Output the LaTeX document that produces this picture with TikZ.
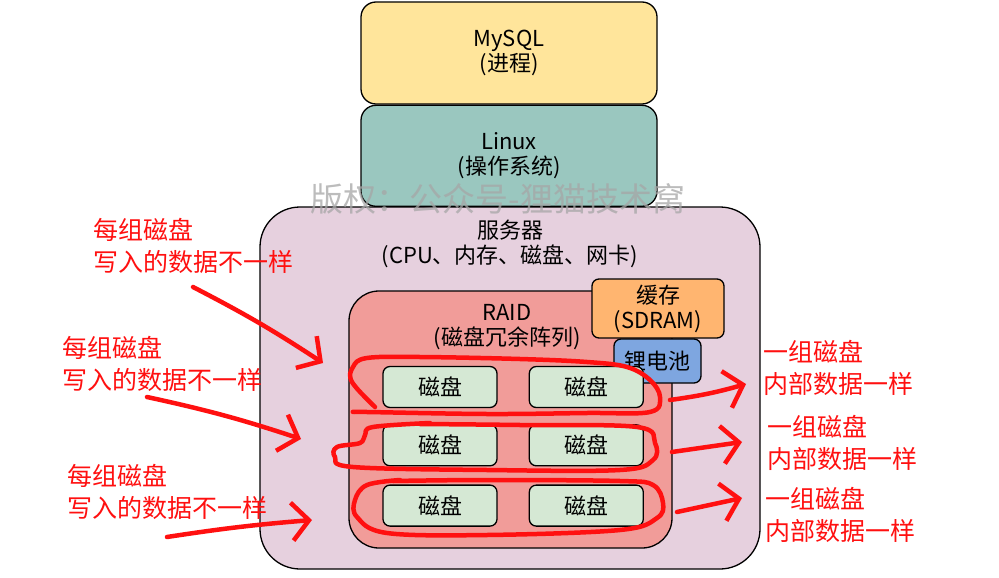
\documentclass[tikz,border=0pt]{standalone}
\usepackage{fontspec}
\setmainfont{Noto Sans CJK SC}
\usetikzlibrary{positioning, arrows.meta}

\definecolor{mysqlfill}{HTML}{FFE59B}
\definecolor{linuxfill}{HTML}{9AC7BF}
\definecolor{serverfill}{HTML}{E6D0DE}
\definecolor{raidfill}{HTML}{F19C99}
\definecolor{cachefill}{HTML}{FFB570}
\definecolor{batteryfill}{HTML}{7EA6E0}
\definecolor{diskfill}{HTML}{D5E8D4}
\definecolor{pen}{HTML}{FF1010}

\begin{document}
\begin{tikzpicture}[
    x=1pt, y=-1pt,
    box/.style={
        rectangle,
        draw=black,
        line width=1.3pt,
        rounded corners=15pt,
        inner sep=0pt,
        align=center,
        font=\fontsize{22}{25}\selectfont
    },
    small/.style={box, rounded corners=7pt},
    disk/.style={small, fill=diskfill, minimum width=114pt, minimum height=41pt},
    note/.style={text=pen, align=left, anchor=west, inner sep=0pt,
        font=\fontsize{25}{32}\selectfont},
    pencil/.style={draw=pen, line width=4.5pt, line cap=round, line join=round},
    scribble/.style={pencil, -{Straight Barb[length=17pt, width=38pt]}}
]
    \useasboundingbox (0,0) rectangle (999,578);

    % 1. MySQL and Linux (top)
    \node (mysql) [box, fill=mysqlfill, minimum width=296pt, minimum height=102pt] at (509,53) {MySQL\\(进程)};
    \node (linux) [box, fill=linuxfill, minimum width=296pt, minimum height=101pt, below=0pt of mysql] {Linux\\(操作系统)};

    % 2. Server
    \node (server) [box, fill=serverfill, rounded corners=40pt, minimum width=500pt, minimum height=362pt] at (510,388) {};
    \node (serverlabel) [align=center, inner sep=0pt, font=\fontsize{22}{25}\selectfont] at (510,244) {服务器\\(CPU、内存、磁盘、网卡)};

    % 3. RAID with cache and battery
    \node (raid) [box, fill=raidfill, rounded corners=30pt, minimum width=323pt, minimum height=257pt] at (510.5,419.5) {};
    \node (raidlabel) [align=center, inner sep=0pt, font=\fontsize{22}{25}\selectfont] at (507,327) {RAID\\(磁盘冗余阵列)};
    \node (cache) [small, fill=cachefill, minimum width=132pt, minimum height=59pt] at (658,308.5) {缓存\\(SDRAM)};
    \node (battery) [small, fill=batteryfill, minimum width=87pt, minimum height=44pt] at (657.5,361) {锂电池};

    % 4. Disks
    \node (disk11) [disk] at (440,387) {磁盘};
    \node (disk12) [disk, right=31pt of disk11] {磁盘};
    \node (disk21) [disk, below=16pt of disk11] {磁盘};
    \node (disk22) [disk, right=31pt of disk21] {磁盘};
    \node (disk31) [disk, below=18pt of disk21] {磁盘};
    \node (disk32) [disk, right=31pt of disk31] {磁盘};

    % Watermark
    \node (watermark) [text=gray!70, opacity=0.75, inner sep=0pt, font=\fontsize{33}{36}\selectfont] at (498,199) {版权：公众号-狸猫技术窝};

    % Hand-drawn loops round each row
    \draw[pencil] plot[smooth, tension=0.6] coordinates {(375,407) (352,382) (353,367) (367,358) (420,357) (520,359) (587,362) (627,367) (650,380) (660,397) (650,412) (587,413) (487,414) (367,412) (355,412)};
    \draw[pencil] plot[smooth, tension=0.6] coordinates {(420,424) (520,425) (637,427) (655,443) (653,460) (620,470) (487,470) (353,467) (335,457) (337,447) (360,443) (365,435) (373,427) (430,423)};
    \draw[pencil] plot[smooth, tension=0.6] coordinates {(393,481) (487,480) (620,481) (653,485) (663,503) (657,518) (620,530) (487,535) (387,533) (357,517) (355,500) (367,485) (400,480)};

    % Notes on the left
    \node (left1) [note] at (93,246) {每组磁盘\\写入的数据不一样};
    \node (left2) [note] at (62,364) {每组磁盘\\写入的数据不一样};
    \node (left3) [note] at (67,492) {每组磁盘\\写入的数据不一样};
    \coordinate (l1from) at (193,287);
    \coordinate (l1to) at (323,363);
    \coordinate (l2from) at (147,397);
    \coordinate (l2to) at (301,439);
    \coordinate (l3from) at (167,537);
    \coordinate (l3to) at (312,520);
    \draw[scribble] (l1from) to[bend left=3] (l1to);
    \draw[scribble] (l2from) to[bend left=3] (l2to);
    \draw[scribble] (l3from) to[bend left=2] (l3to);

    % Notes on the right
    \node (right1) [note] at (763,368) {一组磁盘\\内部数据一样};
    \node (right2) [note] at (767,443) {一组磁盘\\内部数据一样};
    \node (right3) [note] at (765,515) {一组磁盘\\内部数据一样};
    \coordinate (r1from) at (670,400);
    \coordinate (r1to) at (746,384);
    \coordinate (r2from) at (672,452);
    \coordinate (r2to) at (742,442);
    \coordinate (r3from) at (677,512);
    \coordinate (r3to) at (742,498);
    \draw[scribble] (r1from) to[bend right=4] (r1to);
    \draw[scribble] (r2from) to (r2to);
    \draw[scribble] (r3from) to (r3to);

\end{tikzpicture}
\end{document}
